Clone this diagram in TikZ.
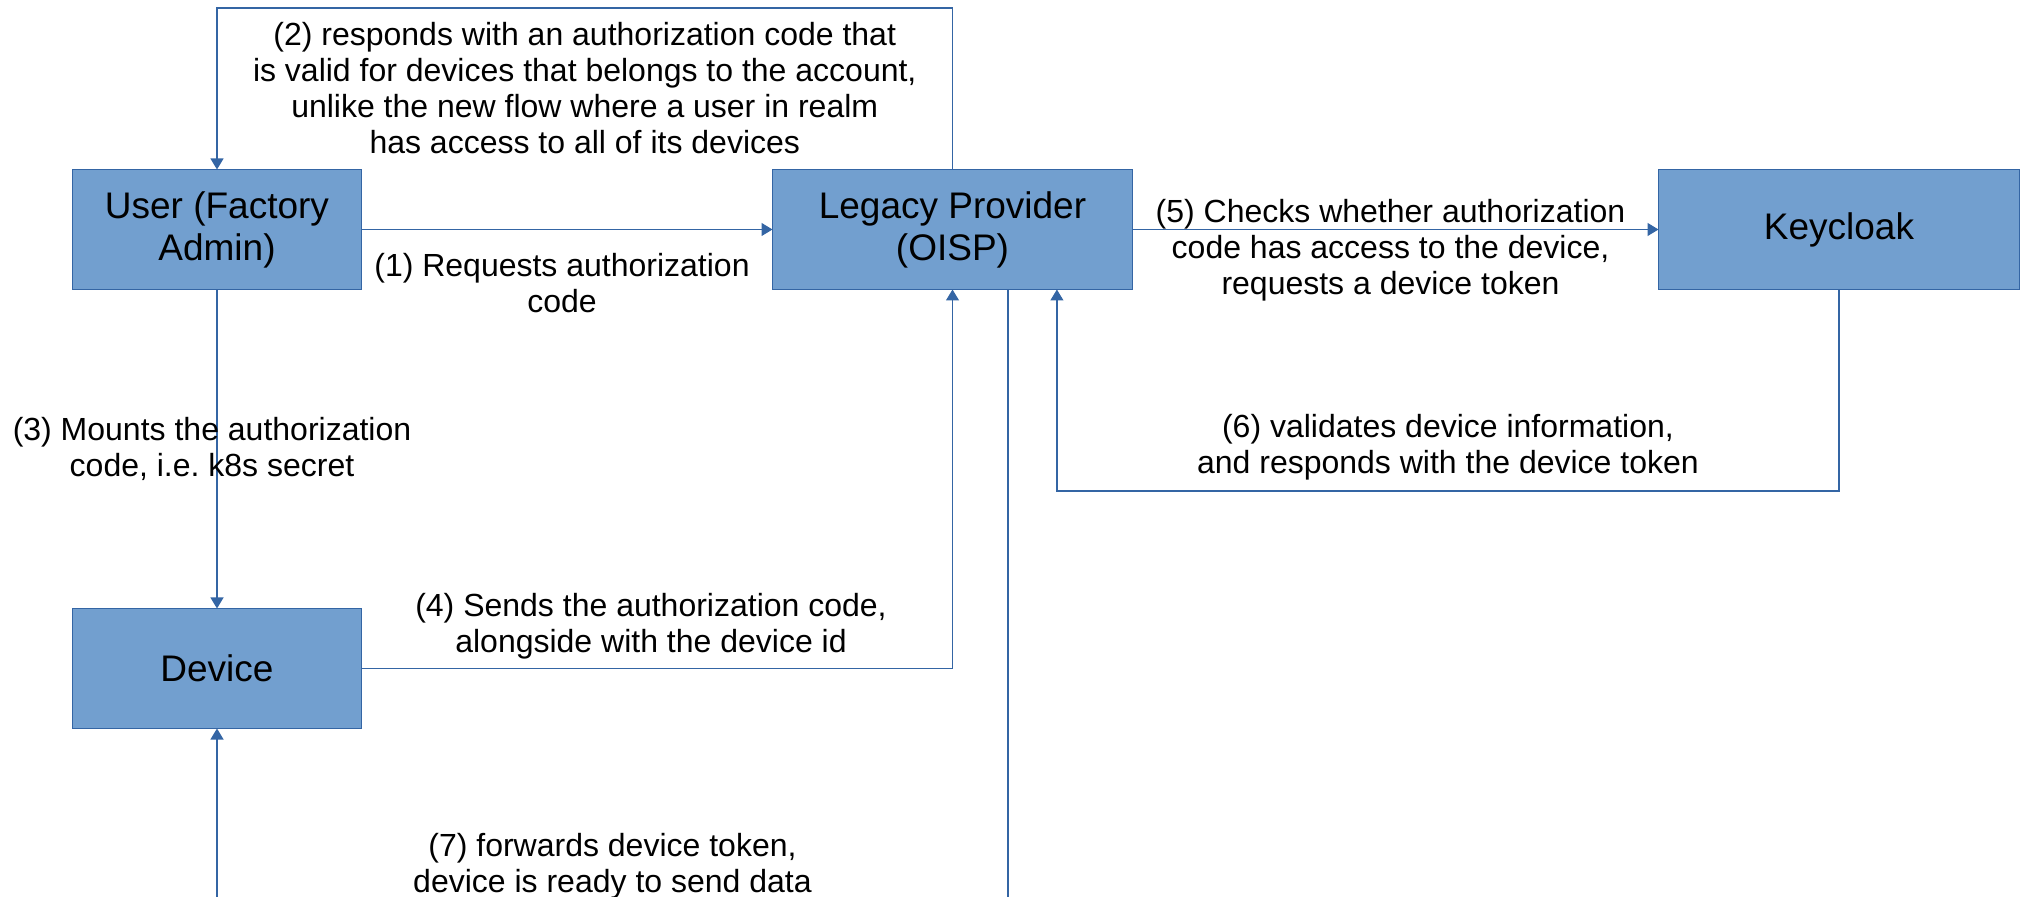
\documentclass[tikz,border=0pt]{standalone}
\usepackage{fontspec}
\setmainfont{Liberation Sans}
\usetikzlibrary{arrows.meta,positioning,calc}
\definecolor{boxblue}{HTML}{729FCF}
\definecolor{lineblue}{HTML}{3465A4}

\begin{document}
\begin{tikzpicture}[
    >={Triangle[length=5.5pt,width=6.5pt]}, % 小三角箭頭
    node distance=205.5pt,
    % 定義樣式
    block/.style={
        draw=lineblue,
        fill=boxblue,
        line width=0.6pt,
        minimum height=60pt,
        align=center,
        outer sep=0pt,
        font=\fontsize{18.5}{21}\selectfont
    },
    msg/.style={
        align=center,
        inner sep=0pt,
        font=\fontsize{16}{18}\selectfont
    },
    flow/.style={
        draw=lineblue,
        line width=0.6pt
    }
]

    % --- 0. Canvas ---
    % 圖的下緣切掉 (7) 的回程線
    \useasboundingbox (-108.5pt,114.75pt) rectangle (905pt,-333.75pt);
    \clip (-108.5pt,114.75pt) rectangle (905pt,-333.75pt);

    % --- 1. Boxes ---
    \node[block, minimum width=144.5pt] (user) {User (Factory\\Admin)};
    \node[block, minimum width=180pt, right=205.5pt of user] (legacy) {Legacy Provider\\(OISP)};
    \node[block, minimum width=180.5pt, right=263pt of legacy] (keycloak) {Keycloak};
    \node[block, minimum width=144.5pt, below=159.5pt of user] (device) {Device};

    % --- 2. Helper coordinates on Legacy Provider ---
    \coordinate (back6) at ($(legacy.south west)!0.79!(legacy.south east)$);
    \coordinate (out7) at ($(legacy.south west)!0.654!(legacy.south east)$);
    \coordinate (turn6) at ($(keycloak.south)+(0,-100.75pt)$);
    \coordinate (turn7) at ($(out7)+(0,-315pt)$);

    % --- 3. Arrows ---
    % (1) User -> Legacy
    \draw[flow, ->] (user.east) -- (legacy.west);
    \node[msg] at ($(user.east)!0.5!(legacy.west)+(-2.5pt,-27pt)$) {(1) Requests authorization\\code};

    % (2) Legacy -> User (繞上方)
    \draw[flow, ->] (legacy.north) -- ++(0,80.75pt) -| (user.north);
    \node[msg] at ($(user.north)!0.5!(legacy.north)+(0,40.5pt)$) {(2) responds with an authorization code that\\is valid for devices that belongs to the account,\\unlike the new flow where a user in realm\\has access to all of its devices};

    % (3) User -> Device
    \draw[flow, ->] (user.south) -- (device.north);
    \node[msg] at ($(user.south)!0.5!(device.north)+(-2.5pt,0)$) {(3) Mounts the authorization\\code, i.e.\ k8s secret};

    % (4) Device -> Legacy
    \draw[flow, ->] (device.east) -| (legacy.south);
    \node[msg] at ($(device.east)!0.5!(device.east -| legacy.south)+(-3pt,21pt)$) {(4) Sends the authorization code,\\alongside with the device id};

    % (5) Legacy -> Keycloak
    \draw[flow, ->] (legacy.east) -- (keycloak.west);
    \node[msg] at ($(legacy.east)!0.5!(keycloak.west)+(-2.5pt,-10.5pt)$) {(5) Checks whether authorization\\code has access to the device,\\requests a device token};

    % (6) Keycloak -> Legacy (繞下方)
    \draw[flow, ->] (keycloak.south) -- (turn6) -| (back6);
    \node[msg] at ($(turn6)!0.5!(turn6 -| back6)+(0,22pt)$) {(6) validates device information,\\and responds with the device token};

    % (7) Legacy -> Device
    \draw[flow, ->] (out7) -- (turn7) -| (device.south);
    \node[msg] at ($(turn7)!0.5!(turn7 -| device.south)+(0,26.5pt)$) {(7) forwards device token,\\device is ready to send data};

\end{tikzpicture}
\end{document}
